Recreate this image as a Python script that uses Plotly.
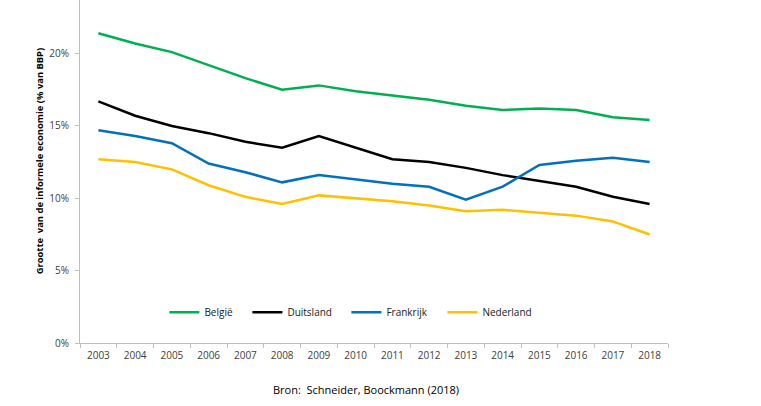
import plotly.graph_objects as go

years = [str(y) for y in range(2003, 2019)]
belgie = [21.4, 20.7, 20.1, 19.2, 18.3, 17.5, 17.8, 17.4, 17.1, 16.8, 16.4, 16.1, 16.2, 16.1, 15.6, 15.4]
duitsland = [16.7, 15.7, 15.0, 14.5, 13.9, 13.5, 14.3, 13.5, 12.7, 12.5, 12.1, 11.6, 11.2, 10.8, 10.1, 9.6]
frankrijk = [14.7, 14.3, 13.8, 12.4, 11.8, 11.1, 11.6, 11.3, 11.0, 10.8, 9.9, 10.8, 12.3, 12.6, 12.8, 12.5]
nederland = [12.7, 12.5, 12.0, 10.9, 10.1, 9.6, 10.2, 10.0, 9.8, 9.5, 9.1, 9.2, 9.0, 8.8, 8.4, 7.5]

series = [
    ("België", belgie, "#00B050", 38),
    ("Duitsland", duitsland, "#000000", 54),
    ("Frankrijk", frankrijk, "#0070C0", 51),
    ("Nederland", nederland, "#FFC000", 60),
]
y_ticks = [0, 5, 10, 15, 20]
y_tick_labels = ["0%", "5%", "10%", "15%", "20%"]

FONT = "Open Sans, Liberation Sans, sans-serif"

fig = go.Figure()
for name, vals, col, lw in series:
    fig.add_trace(go.Scatter(x=years, y=vals, name=name, mode="lines",
                             legendwidth=lw,
                             line=dict(color=col, width=2.5)))

fig.update_layout(
    width=761, height=406,
    margin=dict(l=80, r=93, t=0, b=63),
    paper_bgcolor="white", plot_bgcolor="white",
    font=dict(family=FONT, size=10, color="#404040"),
    showlegend=True,
    legend=dict(orientation="h", x=0.1435, y=0.09, xanchor="left", yanchor="middle",
                font=dict(size=10, color="#202020"), bgcolor="rgba(0,0,0,0)",
                tracegroupgap=0),
    xaxis=dict(type="category", range=[-0.5, 15.5], showline=True, linecolor="#BFBFBF", linewidth=1,
               ticks="outside", tickson="boundaries", ticklen=4, tickcolor="#BFBFBF",
               ticklabelstandoff=3,
               showgrid=False, zeroline=False, tickfont=dict(size=10, color="#404040")),
    yaxis=dict(range=[0, 23.7], showline=True, linecolor="#BFBFBF", linewidth=1,
               ticks="outside", ticklen=4, tickcolor="#BFBFBF",
               ticklabelstandoff=4,
               tickvals=y_ticks, ticktext=y_tick_labels,
               showgrid=False, zeroline=False, tickfont=dict(size=10, color="#404040")),
    annotations=[
        dict(text="<b>Grootte  van de informele economie (% van BBP)</b>",
             xref="paper", yref="paper", x=-0.0695, y=0.53, textangle=-90,
             showarrow=False, font=dict(size=9.4, color="#000000"),
             xanchor="center", yanchor="middle"),
        dict(text="Bron:  Schneider, Boockmann (2018)",
             xref="paper", yref="paper", x=0.486, y=-0.135,
             showarrow=False, font=dict(size=11, color="#000000"),
             xanchor="center", yanchor="middle"),
    ],
)

fig.write_html("out.html", config={"displayModeBar": False},
               post_script="document.body.style.margin='0';")
